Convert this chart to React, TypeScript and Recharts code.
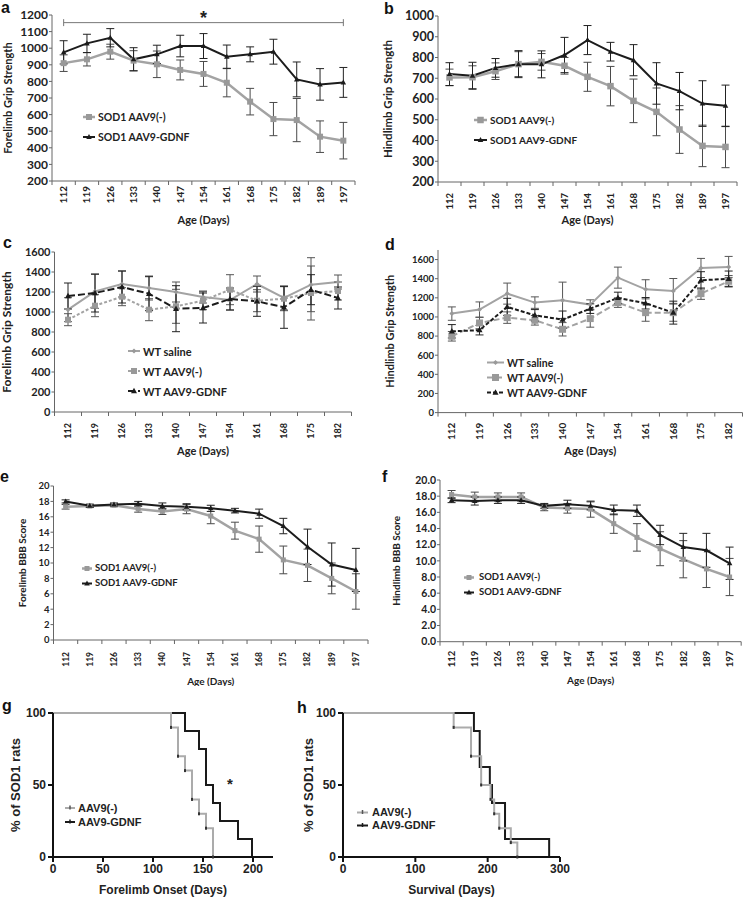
import React from 'react';
import {
  LineChart,
  Line,
  XAxis,
  YAxis,
  ErrorBar,
  Legend,
  ReferenceLine,
  ReferenceDot,
} from 'recharts';

const LATO = 'Lato, "Open Sans", sans-serif';
const ARIAL = '"Liberation Sans", Arial, sans-serif';
const GRAY = '#a3a3a3';
const BLACK = '#1c1c1c';
const INK = '#222';

// ---- ages (x categories) ----
const agesLong = [112, 119, 126, 133, 140, 147, 154, 161, 168, 175, 182, 189, 197];
const agesShort = [112, 119, 126, 133, 140, 147, 154, 161, 168, 175, 182];

// ---- a: forelimb grip strength, SOD1 ----
const aAav9 = [910, 933, 979, 925, 903, 869, 845, 792, 678, 573, 567, 467, 443];
const aAav9Err = [50, 40, 45, 60, 80, 60, 75, 85, 80, 100, 130, 95, 110];
const aGdnf = [975, 1029, 1063, 933, 963, 1013, 1013, 949, 963, 979, 812, 782, 794];
const aGdnfErr = [70, 55, 55, 70, 55, 65, 75, 70, 45, 75, 105, 95, 90];
const aTicks = [200, 300, 400, 500, 600, 700, 800, 900, 1000, 1100, 1200];

// ---- b: hindlimb grip strength, SOD1 ----
const bAav9 = [704, 705, 734, 768, 779, 760, 707, 662, 591, 538, 453, 374, 369];
const bAav9Err = [40, 55, 40, 60, 40, 40, 70, 95, 105, 115, 115, 100, 100];
const bGdnf = [720, 712, 750, 768, 767, 812, 884, 828, 787, 675, 638, 578, 567];
const bGdnfErr = [55, 65, 45, 65, 65, 85, 70, 45, 75, 100, 90, 110, 100];
const bTicks = [200, 300, 400, 500, 600, 700, 800, 900, 1000];

// ---- c: forelimb grip strength, WT ----
const cSaline = [1023, 1207, 1280, 1240, 1200, 1150, 1120, 1280, 1140, 1273, 1300];
const cSalineErr = [120, 170, 130, 120, 100, 60, 100, 80, 120, 270, 70];
const cAav9 = [923, 1063, 1153, 1023, 1057, 1113, 1223, 1113, 1133, 1190, 1210];
const cAav9Err = [60, 110, 90, 110, 170, 90, 150, 110, 120, 270, 90];
const cGdnf = [1160, 1190, 1250, 1183, 1033, 1040, 1130, 1107, 1047, 1223, 1140];
const cGdnfErr = [130, 190, 160, 170, 230, 150, 110, 150, 210, 150, 110];
const cdTicks = [0, 200, 400, 600, 800, 1000, 1200, 1400, 1600];

// ---- d: hindlimb grip strength, WT ----
const dSaline = [1035, 1077, 1244, 1150, 1174, 1129, 1411, 1289, 1272, 1512, 1523];
const dSalineErr = [70, 80, 110, 60, 190, 50, 110, 100, 130, 100, 110];
const dAav9 = [798, 937, 993, 965, 871, 983, 1150, 1045, 1045, 1244, 1373];
const dAav9Err = [50, 60, 60, 50, 70, 90, 50, 90, 90, 60, 60];
const dGdnf = [850, 862, 1105, 1017, 972, 1087, 1199, 1143, 1045, 1383, 1400];
const dGdnfErr = [70, 50, 90, 60, 90, 50, 60, 60, 120, 90, 80];

// ---- e: forelimb BBB ----
const eAav9 = [17.3, 17.4, 17.5, 17.0, 16.7, 17.0, 16.1, 14.2, 13.1, 10.4, 9.7, 8.0, 6.3];
const eAav9Err = [0.3, 0.2, 0.2, 0.4, 0.4, 0.6, 1.0, 1.1, 1.7, 1.8, 2.1, 2.0, 2.3];
const eGdnf = [18.0, 17.45, 17.6, 17.7, 17.4, 17.3, 17.1, 16.8, 16.4, 14.8, 12.1, 9.8, 9.1];
const eGdnfErr = [0.2, 0.2, 0.2, 0.3, 0.4, 0.4, 0.4, 0.3, 0.6, 1.0, 2.3, 2.8, 2.8];
const eTicks = [0, 2, 4, 6, 8, 10, 12, 14, 16, 18, 20];

// ---- f: hindlimb BBB ----
const fAav9 = [18.2, 17.9, 17.9, 17.9, 16.6, 16.5, 16.4, 14.6, 12.9, 11.5, 10.2, 9.0, 8.0];
const fAav9Err = [0.5, 0.6, 0.5, 0.5, 0.4, 0.6, 1.0, 1.2, 1.7, 2.1, 2.3, 2.3, 2.3];
const fGdnf = [17.5, 17.4, 17.5, 17.5, 16.8, 17.0, 16.8, 16.3, 16.2, 13.2, 11.7, 11.3, 9.7];
const fGdnfErr = [0.3, 0.5, 0.4, 0.4, 0.3, 0.5, 0.5, 0.6, 0.7, 1.2, 1.7, 2.1, 2.0];

// ---- g: forelimb onset (Kaplan-Meier) ----
const gAav9Days = [0, 118, 125, 132, 139, 146, 153, 160];
const gAav9Pct = [100, 90, 70, 60, 40, 30, 20, 0];
const gGdnfDays = [0, 132, 146, 153, 160, 167, 185, 199];
const gGdnfPct = [100, 87.5, 75, 50, 37.5, 25, 12.5, 0];
const gXTicks = [0, 50, 100, 150, 200];

// ---- h: survival ----
const hAav9Days = [0, 153, 177, 191, 204, 209, 216, 232, 241];
const hAav9Pct = [100, 90, 70, 50, 40, 30, 20, 10, 0];
const hGdnfDays = [0, 181, 189, 203, 206, 224, 285];
const hGdnfPct = [100, 87.5, 62.5, 50, 37.5, 12.5, 0];
const hXTicks = [0, 100, 200, 300];
const pctTicks = [0, 50, 100];

type Marker = 'square' | 'triangle' | 'diamond' | 'tick' | 'none';

type SeriesDef = {
  key: string;
  name: string;
  values: number[];
  errs: number[];
  color: string;
  width: number;
  dash?: string;
  marker: Marker;
  size: number;
  markerFill: string;
  errColor: string;
};

type LegendCfg = { x: number; y: number; rowH: number; sampleW: number; gap: number; size: number };

function MarkerShape({ kind, cx, cy, size, fill }: { kind: Marker; cx: number; cy: number; size: number; fill: string }) {
  if (kind === 'square') {
    return <rect x={cx - size / 2} y={cy - size / 2} width={size} height={size} fill={fill} />;
  }
  if (kind === 'triangle') {
    return (
      <polygon
        points={`${cx},${cy - size * 0.6} ${cx - size * 0.55},${cy + size * 0.4} ${cx + size * 0.55},${cy + size * 0.4}`}
        fill={fill}
      />
    );
  }
  if (kind === 'diamond') {
    return (
      <polygon
        points={`${cx},${cy - size / 2} ${cx + size / 2},${cy} ${cx},${cy + size / 2} ${cx - size / 2},${cy}`}
        fill={fill}
      />
    );
  }
  if (kind === 'tick') {
    return <rect x={cx - 0.75} y={cy - 2.5} width={1.5} height={4} fill={fill} />;
  }
  return null;
}

function LegendBox({ items, cfg, family }: { items: SeriesDef[]; cfg: LegendCfg; family: string }) {
  return (
    <div style={{ fontFamily: family, fontWeight: 700, fontSize: cfg.size, color: INK }}>
      {items.map((it) => (
        <div key={it.key} style={{ display: 'flex', alignItems: 'center', height: cfg.rowH, whiteSpace: 'nowrap' }}>
          <svg width={cfg.sampleW} height={cfg.rowH} style={{ display: 'block' }}>
            <line
              x1={0}
              x2={cfg.sampleW}
              y1={cfg.rowH / 2}
              y2={cfg.rowH / 2}
              stroke={it.color}
              strokeWidth={it.width}
              strokeDasharray={it.dash}
            />
            <MarkerShape kind={it.marker} cx={cfg.sampleW / 2} cy={cfg.rowH / 2} size={it.size} fill={it.markerFill} />
          </svg>
          <span style={{ marginLeft: cfg.gap, lineHeight: 1 }}>{it.name}</span>
        </div>
      ))}
    </div>
  );
}

// category tick: labels at integer positions, small tick marks at the category boundaries
function CatTick(props: any) {
  const { x, y, payload, labels, size, gap } = props;
  const v = payload.value;
  if (Math.abs(v - Math.round(v)) > 0.01) {
    return <line x1={x} x2={x} y1={y} y2={y + 4} stroke="#666" strokeWidth={1} />;
  }
  const ty = y + gap;
  return (
    <text
      x={x}
      y={ty}
      transform={`rotate(-90 ${x} ${ty})`}
      textAnchor="end"
      dy="0.35em"
      fontSize={size}
      fontFamily={LATO}
      fontWeight={700}
      fill={INK}
    >
      {labels[Math.round(v)]}
    </text>
  );
}

type TCPanel = {
  left: number;
  top: number;
  width: number;
  height: number;
  mt: number;
  mr: number;
  yw: number;
  xh: number;
  ages: number[];
  domain: [number, number];
  yTicks: number[];
  yFmt?: (v: number) => string;
  series: SeriesDef[];
  yTitle: string;
  yTitleOffset: number;
  yTitleSize: number;
  xTitleOffset: number;
  xTitleSize: number;
  yTickSize: number;
  xTickSize: number;
  xTickGap: number;
  legend: LegendCfg;
  extras?: React.ReactNode[];
};

function TimeCoursePanel(p: TCPanel) {
  const n = p.ages.length;
  const rows = p.ages.map((age, i) => {
    const r: Record<string, number> = { i, age };
    p.series.forEach((s) => {
      r[s.key] = s.values[i];
      r[s.key + 'Err'] = s.errs[i];
    });
    return r;
  });
  const ticks = Array.from({ length: 2 * n + 1 }, (_, k) => k / 2 - 0.5);
  const titleStyle = { fontFamily: LATO, fontWeight: 700, fill: INK };

  return (
    <div style={{ position: 'absolute', left: p.left, top: p.top }}>
      <LineChart width={p.width} height={p.height} data={rows} margin={{ top: p.mt, right: p.mr, left: 0, bottom: 0 }}>
        <XAxis
          dataKey="i"
          type="number"
          domain={[-0.5, n - 0.5]}
          ticks={ticks}
          interval={0}
          height={p.xh}
          tickSize={0}
          tickMargin={0}
          tickLine={false}
          stroke="#666"
          tick={(tp: any) => <CatTick {...tp} labels={p.ages} size={p.xTickSize} gap={p.xTickGap} />}
          label={{
            value: 'Age (Days)',
            position: 'insideBottom',
            offset: p.xTitleOffset,
            style: { ...titleStyle, fontSize: p.xTitleSize },
          }}
        />
        <YAxis
          domain={p.domain}
          ticks={p.yTicks}
          interval={0}
          width={p.yw}
          tickSize={3}
          tickMargin={1}
          stroke="#666"
          tickFormatter={p.yFmt}
          tick={{ fill: INK, fontSize: p.yTickSize, fontFamily: LATO, fontWeight: 700 }}
          label={{
            value: p.yTitle,
            angle: -90,
            position: 'insideLeft',
            offset: p.yTitleOffset,
            style: { ...titleStyle, fontSize: p.yTitleSize, textAnchor: 'middle' },
          }}
        />
        {p.series.map((s) => (
          <Line
            key={s.key}
            dataKey={s.key}
            name={s.name}
            stroke={s.color}
            strokeWidth={s.width}
            strokeDasharray={s.dash}
            isAnimationActive={false}
            dot={(d: any) => (
              <MarkerShape key={`${s.key}-${d.index}`} kind={s.marker} cx={d.cx} cy={d.cy} size={s.size} fill={s.markerFill} />
            )}
            activeDot={false}
          >
            <ErrorBar dataKey={s.key + 'Err'} direction="y" width={4} stroke={s.errColor} strokeWidth={1} />
          </Line>
        ))}
        <Legend
          layout="vertical"
          align="center"
          verticalAlign="middle"
          wrapperStyle={{ left: p.legend.x, top: p.legend.y, width: 'auto', height: 'auto' }}
          content={() => <LegendBox items={p.series} cfg={p.legend} family={LATO} />}
        />
        {p.extras}
      </LineChart>
    </div>
  );
}

type SurvSeries = SeriesDef & { days: number[]; pct: number[]; marks: boolean };

type SurvPanel = {
  left: number;
  top: number;
  width: number;
  height: number;
  mt: number;
  mr: number;
  yw: number;
  xh: number;
  xDomain: [number, number];
  xTicks: number[];
  xTitle: string;
  yTitleOffset: number;
  series: SurvSeries[];
  legend: LegendCfg;
  extras?: React.ReactNode[];
};

function SurvivalPanel(p: SurvPanel) {
  const axisLine = { stroke: '#111', strokeWidth: 2 };
  return (
    <div style={{ position: 'absolute', left: p.left, top: p.top }}>
      <LineChart width={p.width} height={p.height} margin={{ top: p.mt, right: p.mr, left: 0, bottom: 0 }}>
        <XAxis
          dataKey="day"
          type="number"
          domain={p.xDomain}
          ticks={p.xTicks}
          interval={0}
          height={p.xh}
          tickSize={5}
          tickMargin={2}
          axisLine={axisLine}
          tickLine={axisLine}
          tick={{ fill: INK, fontSize: 12, fontFamily: ARIAL, fontWeight: 700 }}
          label={{
            value: p.xTitle,
            position: 'insideBottom',
            offset: 2.7,
            style: { fontFamily: ARIAL, fontWeight: 700, fontSize: 12, fill: INK },
          }}
        />
        <YAxis
          domain={[0, 100]}
          ticks={pctTicks}
          interval={0}
          width={p.yw}
          tickSize={5}
          tickMargin={2}
          axisLine={axisLine}
          tickLine={axisLine}
          tick={{ fill: INK, fontSize: 12, fontFamily: ARIAL, fontWeight: 700 }}
          label={{
            value: '% of SOD1 rats',
            angle: -90,
            position: 'insideLeft',
            offset: p.yTitleOffset,
            style: { fontFamily: ARIAL, fontWeight: 700, fontSize: 13, fill: INK, textAnchor: 'middle' },
          }}
        />
        {p.series.map((s) => (
          <Line
            key={s.key}
            data={s.days.map((day, i) => ({ day, pct: s.pct[i] }))}
            dataKey="pct"
            name={s.name}
            type="stepAfter"
            stroke={s.color}
            strokeWidth={s.width}
            isAnimationActive={false}
            activeDot={false}
            dot={(d: any) =>
              s.marks && d.index > 0 ? (
                <rect key={`${s.key}-${d.index}`} x={d.cx - 1} y={d.cy - 1.5} width={2} height={3} fill="#333" />
              ) : (
                <g key={`${s.key}-${d.index}`} />
              )
            }
          />
        ))}
        <Legend
          layout="vertical"
          align="center"
          verticalAlign="middle"
          wrapperStyle={{ left: p.legend.x, top: p.legend.y, width: 'auto', height: 'auto' }}
          content={() => <LegendBox items={[...p.series].reverse()} cfg={p.legend} family={ARIAL} />}
        />
        {p.extras}
      </LineChart>
    </div>
  );
}

const sod1Series = (gray: number[], grayErr: number[], black: number[], blackErr: number[], sq: number): SeriesDef[] => [
  {
    key: 'aav9',
    name: 'SOD1 AAV9(-)',
    values: gray,
    errs: grayErr,
    color: GRAY,
    width: 2.5,
    marker: 'square',
    size: sq,
    markerFill: '#999',
    errColor: '#4a4a4a',
  },
  {
    key: 'gdnf',
    name: 'SOD1 AAV9-GDNF',
    values: black,
    errs: blackErr,
    color: BLACK,
    width: 2,
    marker: 'triangle',
    size: 5,
    markerFill: BLACK,
    errColor: '#222',
  },
];

const wtSeries = (
  saline: number[],
  salineErr: number[],
  aav9: number[],
  aav9Err: number[],
  gdnf: number[],
  gdnfErr: number[],
  grayDash: string,
  blackDash: string,
  sq: number,
): SeriesDef[] => [
  {
    key: 'saline',
    name: 'WT saline',
    values: saline,
    errs: salineErr,
    color: GRAY,
    width: 2,
    marker: 'diamond',
    size: 5,
    markerFill: '#999',
    errColor: '#555',
  },
  {
    key: 'aav9',
    name: 'WT AAV9(-)',
    values: aav9,
    errs: aav9Err,
    color: GRAY,
    width: 2,
    dash: grayDash,
    marker: 'square',
    size: sq,
    markerFill: '#999',
    errColor: '#555',
  },
  {
    key: 'gdnf',
    name: 'WT AAV9-GDNF',
    values: gdnf,
    errs: gdnfErr,
    color: BLACK,
    width: 2,
    dash: blackDash,
    marker: 'triangle',
    size: 5.5,
    markerFill: BLACK,
    errColor: '#222',
  },
];

const survSeries = (gDays: number[], gPct: number[], bDays: number[], bPct: number[]): SurvSeries[] => [
  {
    key: 'gdnf',
    name: 'AAV9-GDNF',
    values: [],
    errs: [],
    days: bDays,
    pct: bPct,
    marks: false,
    color: '#1a1a1a',
    width: 2,
    marker: 'tick',
    size: 4,
    markerFill: '#1a1a1a',
    errColor: '#1a1a1a',
  },
  {
    key: 'aav9',
    name: 'AAV9(-)',
    values: [],
    errs: [],
    days: gDays,
    pct: gPct,
    marks: true,
    color: '#ababab',
    width: 2,
    marker: 'tick',
    size: 4,
    markerFill: '#555',
    errColor: '#555',
  },
];

const letterStyle: React.CSSProperties = {
  position: 'absolute',
  fontFamily: ARIAL,
  fontWeight: 700,
  fontSize: 16,
  lineHeight: 1,
  color: '#111',
};

const letters: [string, number, number][] = [
  ['a', 1, 0],
  ['b', 384, 0.5],
  ['c', 3, 234.5],
  ['d', 385, 236.5],
  ['e', 0, 468.5],
  ['f', 382, 468.5],
  ['g', 2, 697.5],
  ['h', 297, 699.5],
];

export default function App() {
  const starA = (sp: any) => (
    <text x={sp.cx} y={sp.cy + 1.5} textAnchor="middle" fontSize={18} fontFamily={ARIAL} fontWeight={700} fill={INK}>
      *
    </text>
  );
  const starG = (sp: any) => (
    <text x={sp.cx} y={sp.cy + 8} textAnchor="middle" fontSize={15} fontFamily={ARIAL} fontWeight={700} fill={INK}>
      *
    </text>
  );

  return (
    <div style={{ position: 'absolute', left: 0, top: 0, width: 744, height: 897, background: '#fff', overflow: 'hidden' }}>
      {letters.map(([t, x, y]) => (
        <div key={t} style={{ ...letterStyle, left: x, top: y }}>
          {t}
        </div>
      ))}

      <TimeCoursePanel
        left={0}
        top={7}
        width={359}
        height={219}
        mt={8}
        mr={4}
        yw={52}
        xh={45}
        ages={agesLong}
        domain={[200, 1200]}
        yTicks={aTicks}
        series={sod1Series(aAav9, aAav9Err, aGdnf, aGdnfErr, 6)}
        yTitle="Forelimb Grip Strength"
        yTitleOffset={8}
        yTitleSize={11}
        xTitleOffset={2}
        xTitleSize={11}
        yTickSize={12}
        xTickSize={10}
        xTickGap={5}
        legend={{ x: 83, y: 100, rowH: 20, sampleW: 12, gap: 3, size: 10.5 }}
        extras={[
          <ReferenceLine key="sig" segment={[{ x: 0, y: 1154 }, { x: 12, y: 1154 }]} stroke="#777" strokeWidth={1} />,
          <ReferenceLine key="sigL" segment={[{ x: 0, y: 1133 }, { x: 0, y: 1175 }]} stroke="#777" strokeWidth={1} />,
          <ReferenceLine key="sigR" segment={[{ x: 12, y: 1133 }, { x: 12, y: 1175 }]} stroke="#777" strokeWidth={1} />,
          <ReferenceDot key="star" x={6} y={1154} r={0} ifOverflow="visible" shape={starA} />,
        ]}
      />

      <TimeCoursePanel
        left={377.5}
        top={8}
        width={363}
        height={219}
        mt={8}
        mr={4}
        yw={60}
        xh={45}
        ages={agesLong}
        domain={[200, 1000]}
        yTicks={bTicks}
        series={sod1Series(bAav9, bAav9Err, bGdnf, bGdnfErr, 6.5)}
        yTitle="Hindlimb Grip Strength"
        yTitleOffset={9.5}
        yTitleSize={11.5}
        xTitleOffset={3}
        xTitleSize={11}
        yTickSize={12.5}
        xTickSize={9.5}
        xTickGap={11}
        legend={{ x: 96.5, y: 102, rowH: 20, sampleW: 13, gap: 3, size: 10 }}
      />

      <TimeCoursePanel
        left={0}
        top={244}
        width={355.5}
        height={214}
        mt={8}
        mr={4}
        yw={54.5}
        xh={46}
        ages={agesShort}
        domain={[0, 1600]}
        yTicks={cdTicks}
        series={wtSeries(cSaline, cSalineErr, cAav9, cAav9Err, cGdnf, cGdnfErr, '3 2', '7 3', 6)}
        yTitle="Forelimb Grip Strength"
        yTitleOffset={7}
        yTitleSize={12}
        xTitleOffset={3}
        xTitleSize={11}
        yTickSize={11}
        xTickSize={9}
        xTickGap={11}
        legend={{ x: 128, y: 97, rowH: 20, sampleW: 12, gap: 3, size: 11 }}
      />

      <TimeCoursePanel
        left={378.2}
        top={243.7}
        width={365.5}
        height={214.6}
        mt={6}
        mr={1}
        yw={60}
        xh={46}
        ages={agesShort}
        domain={[0, 1700]}
        yTicks={cdTicks}
        series={wtSeries(dSaline, dSalineErr, dAav9, dAav9Err, dGdnf, dGdnfErr, '6 3', '4 2', 7)}
        yTitle="Hindlimb Grip Strength"
        yTitleOffset={11.8}
        yTitleSize={11}
        xTitleOffset={3.3}
        xTitleSize={11}
        yTickSize={9.5}
        xTickSize={10}
        xTickGap={10}
        legend={{ x: 108.8, y: 111.8, rowH: 15, sampleW: 17, gap: 3, size: 10.5 }}
      />

      <TimeCoursePanel
        left={0}
        top={478}
        width={370}
        height={208}
        mt={8}
        mr={2}
        yw={53.5}
        xh={46}
        ages={agesLong}
        domain={[0, 20]}
        yTicks={eTicks}
        series={sod1Series(eAav9, eAav9Err, eGdnf, eGdnfErr, 5)}
        yTitle="Forelimb BBB Score"
        yTitleOffset={22}
        yTitleSize={10}
        xTitleOffset={1.5}
        xTitleSize={10}
        yTickSize={9.5}
        xTickSize={8.5}
        xTickGap={12}
        legend={{ x: 82, y: 82.5, rowH: 15, sampleW: 10, gap: 3, size: 9.5 }}
      />

      <TimeCoursePanel
        left={380.4}
        top={472}
        width={362.2}
        height={213.7}
        mt={8}
        mr={1}
        yw={60}
        xh={44}
        ages={agesLong}
        domain={[0, 20]}
        yTicks={eTicks}
        yFmt={(v: number) => v.toFixed(1)}
        series={sod1Series(fAav9, fAav9Err, fGdnf, fGdnfErr, 5)}
        yTitle="Hindlimb BBB Score"
        yTitleOffset={16.6}
        yTitleSize={10}
        xTitleOffset={1.2}
        xTitleSize={10}
        yTickSize={10.5}
        xTickSize={9.5}
        xTickGap={9}
        legend={{ x: 83.6, y: 97.5, rowH: 15, sampleW: 10, gap: 5, size: 9.5 }}
      />

      <SurvivalPanel
        left={0}
        top={707}
        width={277}
        height={190}
        mt={6}
        mr={4}
        yw={53}
        xh={40}
        xDomain={[0, 220]}
        xTicks={gXTicks}
        xTitle="Forelimb Onset (Days)"
        yTitleOffset={15}
        series={survSeries(gAav9Days, gAav9Pct, gGdnfDays, gGdnfPct)}
        legend={{ x: 65, y: 94, rowH: 14, sampleW: 10, gap: 3, size: 11 }}
        extras={[<ReferenceDot key="star" x={177} y={53} r={0} ifOverflow="visible" shape={starG} />]}
      />

      <SurvivalPanel
        left={295}
        top={707}
        width={283}
        height={190}
        mt={6}
        mr={18}
        yw={48}
        xh={40}
        xDomain={[0, 300]}
        xTicks={hXTicks}
        xTitle="Survival (Days)"
        yTitleOffset={13}
        series={survSeries(hAav9Days, hAav9Pct, hGdnfDays, hGdnfPct)}
        legend={{ x: 62, y: 98.5, rowH: 13, sampleW: 11, gap: 4, size: 11 }}
      />
    </div>
  );
}
